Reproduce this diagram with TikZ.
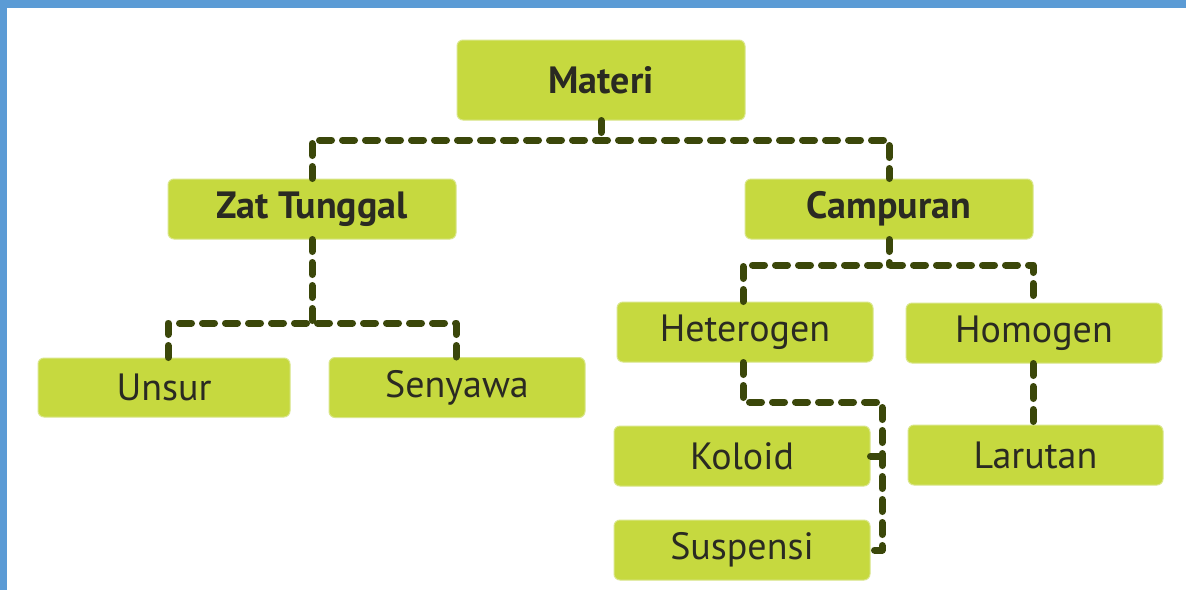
\documentclass[tikz,border=0pt]{standalone}
\usepackage{fontspec}
\setmainfont{PT Sans}
\definecolor{boxgreen}{HTML}{C6D93F}
\definecolor{boxedge}{HTML}{D9E68A}
\definecolor{lineolive}{HTML}{3B470A}
\definecolor{framebl}{HTML}{5B9BD5}
\definecolor{txt}{HTML}{2A2A22}
\begin{document}
\begin{tikzpicture}[x=1pt,y=-1pt,
  box/.style={draw=boxedge,line width=1pt,fill=boxgreen,rounded corners=6pt,inner sep=0pt,
    text=txt,font=\fontsize{38}{40}\selectfont},
  boldbox/.style={box,font=\fontsize{38}{40}\selectfont\bfseries},
  conn/.style={draw=lineolive,line width=7pt,dash pattern=on 12pt off 11pt,line cap=round,line join=round}]
\useasboundingbox (0,0) rectangle (1186,590);
\fill[white] (0,0) rectangle (1186,590);
\fill[framebl] (0,0) rectangle (1186,8);
\fill[framebl] (0,0) rectangle (7,590);
% nodes
\node[boldbox,minimum width=288pt,minimum height=80pt] (materi) at (601,80) {Materi};
\node[boldbox,minimum width=288pt,minimum height=60pt] (zat) at (312,209) {Zat Tunggal};
\node[boldbox,minimum width=288pt,minimum height=60pt] (camp) at (889,209) {Campuran};
\node[box,minimum width=256pt,minimum height=60pt] (hetero) at (745,332) {Heterogen};
\node[box,minimum width=256pt,minimum height=60pt] (homo) at (1034,333) {Homogen};
\node[box,minimum width=252pt,minimum height=59pt] (unsur) at (164,387.5) {Unsur};
\node[box,minimum width=256pt,minimum height=60pt] (senyawa) at (457,387.5) {Senyawa};
\node[box,minimum width=256pt,minimum height=60pt] (koloid) at (742,456) {Koloid};
\node[box,minimum width=255pt,minimum height=60pt] (larutan) at (1035.5,455) {Larutan};
\node[box,minimum width=256pt,minimum height=60pt] (suspensi) at (742,550) {Suspensi};
% junction coordinates
\coordinate (m1) at (601,140);
\coordinate (z1) at (168,323);
\coordinate (z2) at (456,323);
\coordinate (c1) at (743,265);
\coordinate (c2) at (1033,265);
\coordinate (h1) at (743,402);
\coordinate (h2) at (882,402);
% connectors
\draw[conn] (materi.south) -- (m1);
\draw[conn] (zat.north) |- (camp.north |- m1) -- (camp.north);
\draw[conn] (zat.south) -- (zat.south |- z1);
\draw[conn] (unsur.north -| z1) -- (z1) -- (z2) -- (senyawa.north -| z2);
\draw[conn] (camp.south) -- (camp.south |- c1);
\draw[conn] (hetero.north -| c1) -- (c1) -- (c2) -- (homo.north -| c2);
\draw[conn] (hetero.south -| h1) -- (h1) -- (h2) -- (h2 |- suspensi.east) -- (suspensi.east);
\draw[conn] (koloid.east) -- (h2 |- koloid.east);
\draw[conn] (homo.south -| c2) -- (larutan.north -| c2);
\end{tikzpicture}
\end{document}
